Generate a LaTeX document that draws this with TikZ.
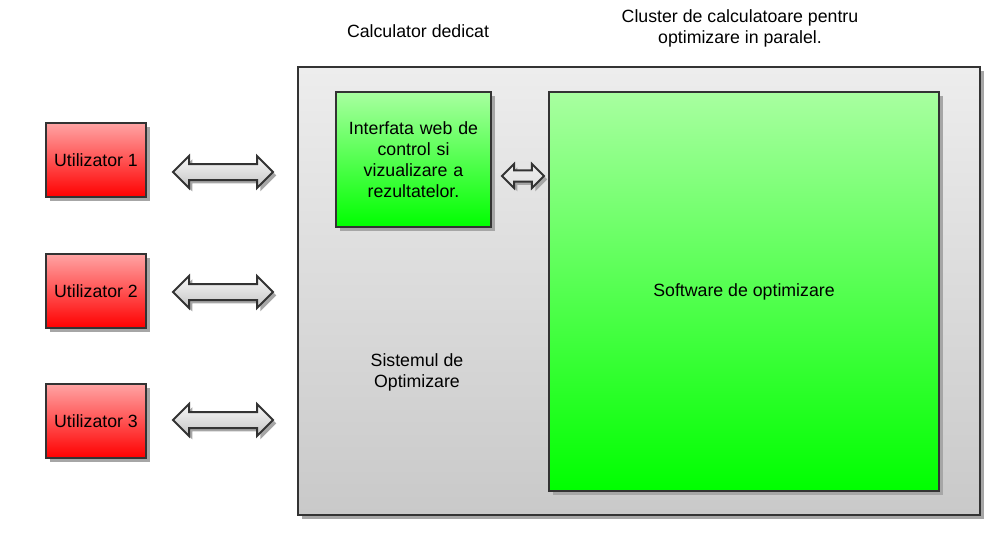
\documentclass[tikz,border=0pt]{standalone}
\usepackage{fontspec}
\setmainfont{Liberation Sans}
\usetikzlibrary{shapes.arrows, shadows, positioning}

\definecolor{edge}{HTML}{333333}
\definecolor{userTop}{HTML}{FFA4A4}
\definecolor{userBot}{HTML}{FF0000}
\definecolor{greenTop}{HTML}{A8FFA0}
\definecolor{greenBot}{HTML}{00FF00}
\definecolor{sysTop}{HTML}{EDEDED}
\definecolor{sysBot}{HTML}{C9C9C9}
\definecolor{arrTop}{HTML}{F8F8F8}
\definecolor{arrBot}{HTML}{C4C4C4}

\tikzset{
  box/.style={draw=edge, line width=1.5pt, inner sep=2pt, align=center,
    drop shadow={shadow xshift=3pt, shadow yshift=-3pt, fill=black!35, opacity=1}},
  userbox/.style={box, top color=userTop, bottom color=userBot,
    minimum width=75pt, minimum height=55.5pt},
  greenbox/.style={box, top color=greenTop, bottom color=greenBot},
  sysbox/.style={box, top color=sysTop, bottom color=sysBot,
    minimum width=511.5pt, minimum height=336pt},
  dblarrow/.style={double arrow, draw=edge, line width=1.5pt, inner xsep=0pt, inner ysep=5.25pt,
    top color=arrTop, bottom color=arrBot,
    double arrow head extend=6pt, double arrow tip angle=90,
    drop shadow={shadow xshift=2.5pt, shadow yshift=-2.5pt, fill=black!35, opacity=1}},
  title/.style={align=center}
}

\begin{document}
\begin{tikzpicture}[x=0.75pt, y=-0.75pt, font=\fontsize{13.3}{15.8}\selectfont]
  \useasboundingbox (0,0) rectangle (1008,536);

  % users
  \node[userbox] (u1) at (96,160) {Utilizator 1};
  \node[userbox] (u2) at (96,291) {Utilizator 2};
  \node[userbox] (u3) at (96,421) {Utilizator 3};

  % system
  \node[sysbox] (sys) at (639,291) {};
  \node[greenbox, minimum width=116.25pt, minimum height=101.25pt, text width=108pt] (web) at (413.5,159.5)
    {Interfata web de\\control si\\vizualizare a\\rezultatelor.};
  \node[greenbox, minimum width=292.5pt, minimum height=299.25pt] (soft) at (744,291.5) {Software de optimizare};
  \node[title] (sysname) at (417,372) {Sistemul de\\Optimizare};

  % arrows
  \node[dblarrow, minimum height=75pt] (a1) at (223,172) {};
  \node[dblarrow, minimum height=75pt] (a2) at (223,292) {};
  \node[dblarrow, minimum height=75pt] (a3) at (223,420) {};
  \node[dblarrow, minimum height=31.5pt, inner ysep=3.4pt, double arrow head extend=4.9pt,
    top color=sysTop, bottom color=sysTop!95!black] (a4) at (523,176) {};

  % titles
  \node[title] (calc) at (418,31) {Calculator dedicat};
  \node[title] (cluster) at (740,28) {Cluster de calculatoare pentru\\optimizare in paralel.};
\end{tikzpicture}
\end{document}
